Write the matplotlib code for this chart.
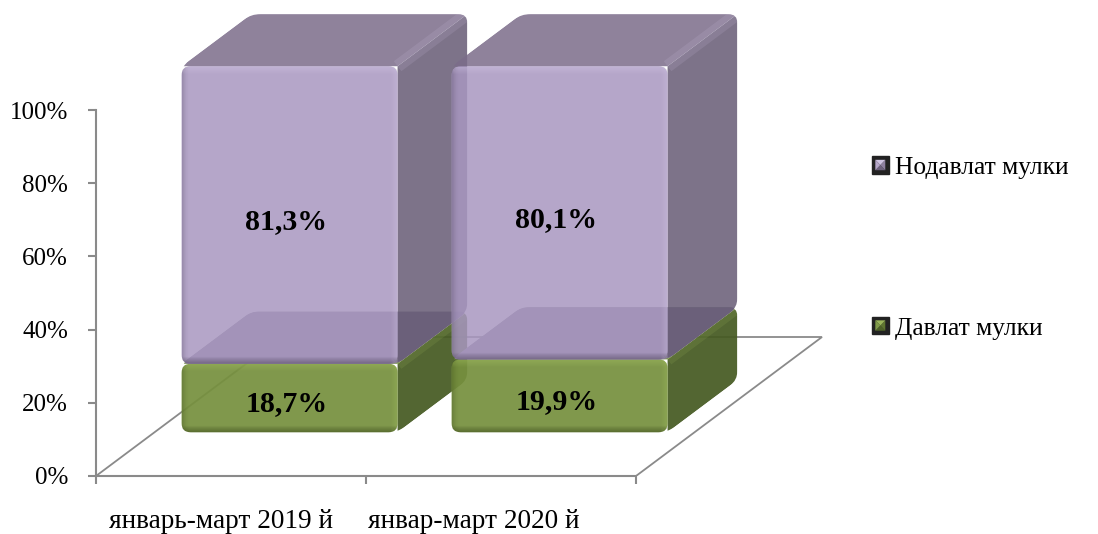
import matplotlib
matplotlib.use("Agg")
import matplotlib.pyplot as plt
from matplotlib.patches import PathPatch, Polygon, Rectangle
from matplotlib.path import Path
from matplotlib.legend_handler import HandlerBase

plt.rcParams['font.family'] = ['Liberation Serif', 'DejaVu Serif']

categories = ['январь-март 2019 й', 'январ-март 2020 й']
davlat = [18.7, 19.9]
nodavlat = [81.3, 80.1]
series_names = ['Давлат мулки', 'Нодавлат мулки']
y_ticks = [0, 20, 40, 60, 80, 100]

# front, top, side, bottom, light, dark
GREEN = ['#76903E', '#6C8A38', '#465A22', '#4E6228', '#A6C261', '#3F4F1E']
PURPLE = ['#A897C0', '#7B6C8A', '#665B75', '#8A7F98', '#D4C8E6', '#5A4F68']
AXIS_COL = '#8A8A8A'

W, H = 1098, 534
PX_X = 270.0   # pixels per category
PX_Y = 3.66    # pixels per percent
DEPTH_X = 186 / PX_X
DEPTH_Y = 139 / PX_Y
Z0, Z1 = 0.315, 0.69

fig = plt.figure(figsize=(W / 100, H / 100), dpi=100)
ax = fig.add_axes([96 / W, 58 / H, (W - 96) / W, 476 / H])
ax.set_xlim(0, (W - 96) / PX_X)
ax.set_ylim(0, 476 / PX_Y)


def proj(x, y, z):
    return (x + DEPTH_X * z, y + DEPTH_Y * z)


def rounded(pts, r):
    # closed path through pts with corners cut by r pixels
    verts, codes = [], []
    n = len(pts)
    for i in range(n):
        p = pts[i]
        out = []
        for q in (pts[i - 1], pts[(i + 1) % n]):
            dx, dy = (q[0] - p[0]) * PX_X, (q[1] - p[1]) * PX_Y
            d = (dx ** 2 + dy ** 2) ** 0.5
            rr = min(r, d / 2)
            out.append((p[0] + dx / d * rr / PX_X, p[1] + dy / d * rr / PX_Y))
        verts += [out[0], p, out[1]]
        codes += [Path.MOVETO if i == 0 else Path.LINETO, Path.CURVE3, Path.CURVE3]
    verts.append(verts[0])
    codes.append(Path.CLOSEPOLY)
    return Path(verts, codes)


def face(pts, color, alpha, z, r=7, clip=None):
    p = PathPatch(rounded(pts, r), facecolor=color, edgecolor='none', alpha=alpha, zorder=z)
    ax.add_patch(p)
    if clip is not None:
        p.set_clip_path(clip)
    return p


def strip(a, b, clip, color, alpha, lw, z):
    ln, = ax.plot([a[0], b[0]], [a[1], b[1]], color=color, alpha=alpha, lw=lw,
                  solid_capstyle='butt', zorder=z)
    ln.set_clip_path(clip)


def draw_segment(x0, x1, y0, y1, cols, z, alpha, with_bottom=False):
    front, top, side, bottom, light, dark = cols
    if with_bottom:
        face([proj(x0, y0, Z0), proj(x1, y0, Z0), proj(x1, y0, Z1), proj(x0, y0, Z1)],
             bottom, 1, z)
    # whole outline of the block, side and top get cut to it
    outline = face([proj(x0, y0, Z0), proj(x1, y0, Z0), proj(x1, y0, Z1), proj(x1, y1, Z1),
                    proj(x0, y1, Z1), proj(x0, y1, Z0)], 'none', 1, z, r=9)
    face([proj(x1, y0, Z0), proj(x1, y0, Z1), proj(x1, y1, Z1), proj(x1, y1, Z0)],
         side, alpha, z + 0.1, r=0, clip=outline)
    face([proj(x0, y1, Z0), proj(x1, y1, Z0), proj(x1, y1, Z1), proj(x0, y1, Z1)],
         top, alpha, z + 0.1, r=0, clip=outline)
    # soft lighter ridge where top and side meet
    a, b = proj(x1, y1, Z0), proj(x1, y1, Z1)
    strip(a, b, outline, light, 0.14, 9, z + 0.2)
    fx0, fy0 = proj(x0, y0, Z0)
    fx1, fy1 = proj(x1, y1, Z0)
    f = face([(fx0, fy0), (fx1, fy0), (fx1, fy1), (fx0, fy1)], front, alpha, z + 0.3, r=9)
    # bevel on the front face, a few thin strokes fading inward
    for i in range(7):
        fade = (7 - i) / 7
        px = i + 0.5
        strip((fx0, fy1 - px / PX_Y), (fx1, fy1 - px / PX_Y), f, light, 0.34 * fade, 0.8, z + 0.4)
        strip((fx1 - px / PX_X, fy0), (fx1 - px / PX_X, fy1), f, light, 0.30 * fade, 0.8, z + 0.4)
        strip((fx0, fy0 + px / PX_Y), (fx1, fy0 + px / PX_Y), f, dark, 0.60 * fade, 0.8, z + 0.4)
        strip((fx0 + px / PX_X, fy0), (fx0 + px / PX_X, fy1), f, dark, 0.28 * fade * fade, 0.8, z + 0.4)


# floor behind the bars
back_l = proj(0, 0, 1)
back_r = proj(2, 0, 1)
ax.plot([0, back_l[0], back_r[0], 2], [0, back_l[1], back_r[1], 0],
        color=AXIS_COL, lw=1.3, zorder=1, solid_joinstyle='miter')

for i in range(len(categories)):
    x0, x1 = i + 0.1, i + 0.9
    z = 2 + i * 3
    draw_segment(x0, x1, 0, davlat[i], GREEN, z, 0.93)
    draw_segment(x0, x1, davlat[i], davlat[i] + nodavlat[i], PURPLE, z + 1, 0.85, with_bottom=True)
    cx = i + 0.5 + DEPTH_X * Z0 - 0.012
    cy = DEPTH_Y * Z0
    ax.text(cx, cy + davlat[i] / 2 - 1.6, f'{davlat[i]:.1f}%'.replace('.', ','), ha='center', va='center',
            fontsize=21.5, fontweight='bold', color='black', zorder=20)
    ax.text(cx, cy + davlat[i] + nodavlat[i] / 2 - 1.8, f'{nodavlat[i]:.1f}%'.replace('.', ','), ha='center',
            va='center', fontsize=21.5, fontweight='bold', color='black', zorder=20)

# axes
for s in ['top', 'right']:
    ax.spines[s].set_visible(False)
ax.spines['left'].set_bounds(0, 100)
ax.spines['bottom'].set_bounds(0, 2)
ax.spines['left'].set_color(AXIS_COL)
ax.spines['bottom'].set_color(AXIS_COL)
ax.spines['left'].set_linewidth(1.5)
ax.spines['bottom'].set_linewidth(1.5)
ax.patch.set_visible(False)
ax.set_yticks(y_ticks)
ax.set_yticklabels([f'{v}%' for v in y_ticks], fontsize=18)
ax.set_xticks([0, 1, 2])
ax.set_xticklabels([])
ax.set_xticks([0.463, 1.4], minor=True)
ax.set_xticklabels(categories, minor=True, fontsize=19.6)
ax.tick_params(axis='y', length=6, width=1.5, color=AXIS_COL, pad=14)
ax.tick_params(axis='x', which='major', length=6, width=1.5, color=AXIS_COL)
ax.tick_params(axis='x', which='minor', length=0, pad=24)


class PyramidHandler(HandlerBase):
    # square legend key with four shaded facets
    def create_artists(self, legend, orig, xd, yd, w, h, fs, trans):
        cols = orig.get_label_cols()
        x0, y0, x1, y1 = -xd, -yd, -xd + w, -yd + h
        m = 0.2 * w
        ins = [(x0 + m, y0 + m), (x1 - m, y0 + m), (x1 - m, y1 - m), (x0 + m, y1 - m)]
        out = [Rectangle((x0, y0), w, h, facecolor='#222222', edgecolor='#222222', transform=trans)]
        for (a, b), c in zip([(0, 1), (1, 2), (2, 3), (3, 0)], cols):
            cen = ((ins[0][0] + ins[1][0]) / 2, (ins[0][1] + ins[2][1]) / 2)
            out.append(Polygon([ins[a], ins[b], cen], facecolor=c, edgecolor='none', transform=trans))
        return out


class Key:
    def __init__(self, cols):
        self.cols = cols

    def get_label_cols(self):
        return self.cols


key_n = Key(['#6E627E', '#8E80A0', '#CFC3E2', '#B5A6C9'])
key_d = Key(['#4E6228', '#5E7530', '#9AB55A', '#7F9A48'])
leg = fig.legend([key_n, key_d], [series_names[1], series_names[0]],
                 handler_map={Key: PyramidHandler()},
                 loc='center left', bbox_to_anchor=(872 / W, 1 - 248 / H), frameon=False,
                 fontsize=18.4, handlelength=0.65, handleheight=0.65, handletextpad=0.24,
                 labelspacing=5.4, borderpad=0, borderaxespad=0)

fig.savefig('out.png', dpi=100)
